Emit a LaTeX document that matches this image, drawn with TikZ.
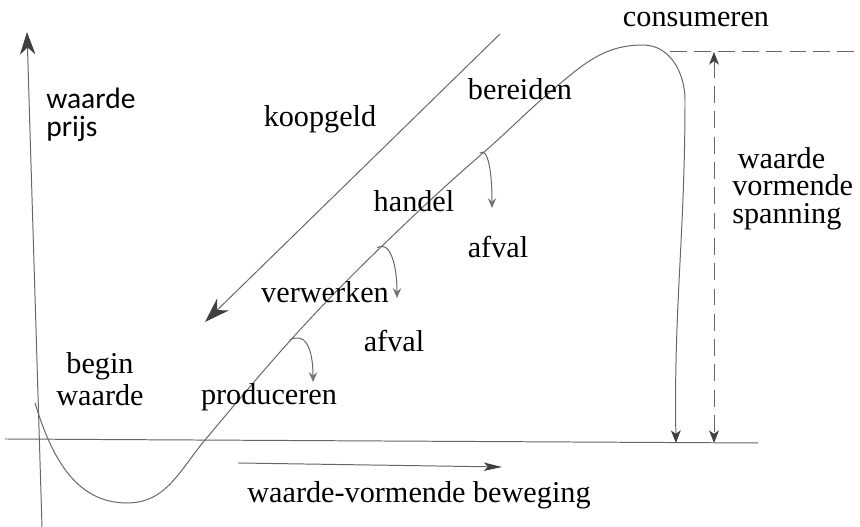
\documentclass[tikz,border=0pt]{standalone}
\usepackage{fontspec}
\setmainfont{Liberation Serif}
\newfontfamily\sansfont{Carlito}
\usetikzlibrary{arrows.meta}
\begin{document}
\begin{tikzpicture}[
    pen/.style={draw=black!60, line width=0.7pt},
    tip/.style={-{Stealth[length=9pt,width=7pt,inset=2.5pt,color=black!75]}},
    hooktip/.style={-{Stealth[length=7pt,width=6pt,inset=2.5pt,color=black!55]}},
    word/.style={font=\fontsize{21.5}{24}\selectfont, inner sep=0pt, anchor=base},
    block/.style={font=\fontsize{21.5}{#1}\selectfont, inner sep=0pt},
  ]

    \useasboundingbox (0,0) rectangle (21.5,13.175);

    %% Value forming curve

    % Axes
    \coordinate (O) at (1.05,0);
    \coordinate (Y) at (0.675,12.375);
    \coordinate (L) at (0.125,2.2);
    \coordinate (R) at (18.95,2.1);
    \draw[pen, -{Stealth[length=16pt,width=11pt,inset=5pt,color=black!75]}] (O) -- (Y);
    \draw[pen] (L) -- (R);
    \node[font=\sansfont\fontsize{21}{19.8}\selectfont, inner sep=0pt, anchor=north west, align=left] (vp) at (1.15,10.975) {waarde\\prijs};

    % Curve
    \coordinate (c0) at (0.875,3.1);
    \coordinate (c1) at (3.175,0.6);
    \coordinate (c2) at (5.125,2.175);
    \coordinate (c3) at (9.5,6.975);
    \coordinate (c4) at (12.075,9.35);
    \coordinate (c5) at (13.9,11.0);
    \coordinate (top) at (16.075,12.05);
    \coordinate (c6) at (17.125,10.675);
    \coordinate (c7) at (16.9,2.1);
    \draw[pen, tip] (c0) to[out=-73,in=180] (c1) to[out=0,in=-130] (c2)
        to[out=50,in=-136] (c3) to[out=44,in=-139] (c4) to[out=41,in=-140] (c5)
        to[out=40,in=180] (top) to[out=0,in=90] (c6) to[out=-90,in=91] (c7);

    % Waste
    \coordinate (h1) at (7.25,4.675);
    \coordinate (a1) at (7.825,3.625);
    \coordinate (h2) at (9.425,6.975);
    \coordinate (a2) at (9.925,5.725);
    \coordinate (h3) at (12.0,9.35);
    \coordinate (a3) at (12.3,7.975);
    \draw[pen, hooktip] (h1) .. controls +(0.35,0.2) and +(0,0.9) .. (a1);
    \draw[pen, hooktip] (h2) .. controls +(0.3,0.2) and +(0,0.9) .. (a2);
    \draw[pen, hooktip] (h3) .. controls +(0.2,0.15) and +(0,0.9) .. (a3);

    % Money flow
    \coordinate (K1) at (12.5,12.325);
    \coordinate (K2) at (5.125,5.125);
    \draw[pen, -{Stealth[length=18pt,width=12pt,inset=6pt,color=black!75]}] (K1) -- (K2);

    % Movement
    \coordinate (M1) at (5.95,1.6);
    \coordinate (M2) at (12.55,1.5);
    \draw[pen, -{Stealth[length=13pt,width=6pt,inset=3pt,color=black!75]}] (M1) -- (M2);

    % Tension
    \coordinate (T1) at (16.75,11.875);
    \coordinate (T2) at (21.5,11.875);
    \coordinate (S1) at (17.85,11.875);
    \coordinate (S2) at (17.85,2.1);
    \draw[pen, dash pattern=on 12pt off 5pt] (T1) -- (T2);
    \draw[pen, dash pattern=on 12pt off 6pt, {Stealth[length=9pt,width=7pt,inset=2.5pt,color=black!75]}-{Stealth[length=9pt,width=7pt,inset=2.5pt,color=black!75]}] (S1) -- (S2);

    % Labels
    \node[word] (koop) at (8.0,10.0) {koopgeld};
    \node[word] (ber) at (13.0,10.675) {bereiden};
    \node[word] (cons) at (17.4,12.5) {consumeren};
    \node[word] (hand) at (10.35,7.875) {handel};
    \node[word] (afv1) at (12.45,6.725) {afval};
    \node[word] (verw) at (8.125,5.6) {verwerken};
    \node[word] (afv2) at (9.85,4.375) {afval};
    \node[word] (prod) at (6.725,3.05) {produceren};
    \node[word] (bew) at (10.475,0.6) {waarde-vormende beweging};
    \node[block=22.7pt, anchor=north, align=center] (begin) at (2.5,4.375) {begin\\waarde};
    \node[block=19.6pt, anchor=north west, align=left] (span) at (18.3,9.5) {\hspace*{4pt}waarde\\vormende\\spanning};

\end{tikzpicture}
\end{document}
